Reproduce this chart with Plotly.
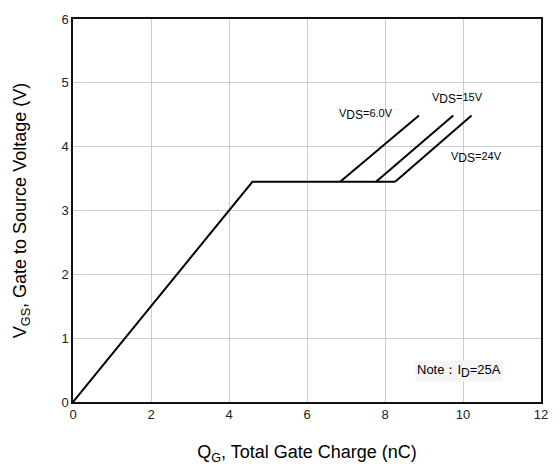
import plotly.graph_objects as go

# Common ramp + plateau (up to the 24 V plateau end)
base_qg = [0, 4.6, 8.26]
base_vgs = [0, 3.45, 3.45]

# Rising branches after the plateau for each VDS
vds6_qg = [6.85, 8.87]
vds6_vgs = [3.45, 4.49]
vds15_qg = [7.77, 9.75]
vds15_vgs = [3.45, 4.49]
vds24_qg = [8.26, 10.22]
vds24_vgs = [3.45, 4.49]

x_ticks = [0, 2, 4, 6, 8, 10, 12]
y_ticks = [0, 1, 2, 3, 4, 5, 6]

font_fam = "Liberation Sans, Arial, sans-serif"
line = dict(color="black", width=2)

fig = go.Figure()
for xs, ys in [(base_qg, base_vgs), (vds6_qg, vds6_vgs), (vds15_qg, vds15_vgs), (vds24_qg, vds24_vgs)]:
    fig.add_trace(go.Scatter(x=xs, y=ys, mode="lines", line=line, showlegend=False, hoverinfo="skip"))

ann_font = dict(family=font_fam, size=11, color="black")
sub = "<sub><span style='font-size:12px'>{}</span></sub>"
fig.add_annotation(x=7.51, y=4.5, text="V" + sub.format("DS") + "=6.0V", showarrow=False, font=ann_font)
fig.add_annotation(x=9.85, y=4.75, text="V" + sub.format("DS") + "=15V", showarrow=False, font=ann_font)
fig.add_annotation(x=10.35, y=3.83, text="V" + sub.format("DS") + "=24V", showarrow=False, font=ann_font)
fig.add_annotation(x=9.9, y=0.48, text="Note：I" + sub.format("D") + "=25A", showarrow=False,
                   font=dict(family=font_fam, size=13, color="black"), bgcolor="#f4f4f4")

fig.update_layout(
    width=560, height=473,
    margin=dict(l=73, r=14, t=16, b=71),
    paper_bgcolor="white", plot_bgcolor="white",
    font=dict(family=font_fam, color="#333"),
    xaxis=dict(range=[0, 12], tickvals=x_ticks, showgrid=True, gridcolor="#cccccc", gridwidth=1,
               zeroline=False, showline=True, linecolor="#111", linewidth=1.5, mirror=True,
               ticks="", tickfont=dict(size=13, color="#222"),
               title=dict(text="Q<sub>G</sub>, Total Gate Charge (nC)", font=dict(size=18, color="black"), standoff=24)),
    yaxis=dict(range=[0, 6], tickvals=y_ticks, showgrid=True, gridcolor="#cccccc", gridwidth=1,
               zeroline=False, showline=True, linecolor="#111", linewidth=1.5, mirror=True,
               ticks="", tickfont=dict(size=13, color="#222"),
               title=dict(text="V<sub>GS</sub>, Gate to Source Voltage (V)", font=dict(size=18, color="black"), standoff=30)),
)

fig.write_html("out.html")
